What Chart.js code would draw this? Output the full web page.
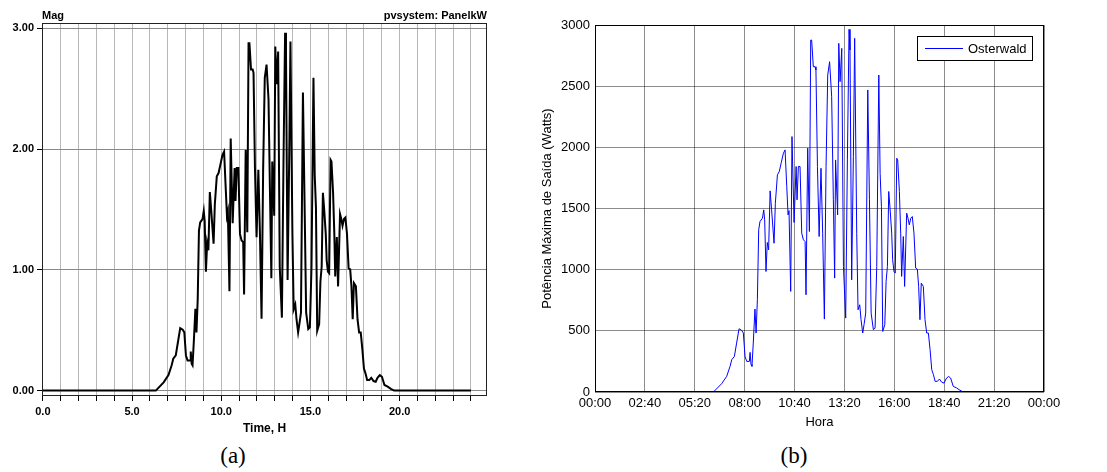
<!DOCTYPE html>
<html>
<head>
<meta charset="utf-8">
<script src="https://cdn.jsdelivr.net/npm/chart.js@4.4.1/dist/chart.umd.min.js"></script>
<style>
  body { margin: 0; background: #fff; }
  #wrap { position: relative; width: 1107px; height: 472px; }
  canvas { position: absolute; top: 0; }
  .cap { position: absolute; top: 443px; width: 60px; text-align: center;
         font-family: "Liberation Serif", "Times New Roman", serif; font-size: 23px; color: #000; }
</style>
</head>
<body>
<div id="wrap">
  <canvas id="grafA" width="500" height="440" style="left:0"></canvas>
  <canvas id="grafB" width="567" height="440" style="left:540px"></canvas>
  <div class="cap" style="left:203px">(a)</div>
  <div class="cap" style="left:764px">(b)</div>
</div>
<script>
// hora do dia (h) e potencia (W)
const horas = [0, 6.33, 6.77, 7.04, 7.22, 7.31, 7.45, 7.57, 7.70, 7.84, 7.93, 8.02, 8.11, 8.25, 8.29, 8.34,
  8.39, 8.46, 8.55, 8.61, 8.68, 8.75, 8.82, 8.95, 9.02, 9.07, 9.14, 9.21, 9.28, 9.36, 9.44, 9.57,
  9.64, 9.75, 9.85, 9.96, 10.07, 10.16, 10.25, 10.32, 10.37, 10.46, 10.53, 10.64, 10.75, 10.80, 10.87,
  10.96, 11.05, 11.14, 11.23, 11.28, 11.37, 11.46, 11.53, 11.58, 11.67, 11.76, 11.81, 11.89, 11.98,
  12.08, 12.17, 12.26, 12.35, 12.44, 12.54, 12.65, 12.74, 12.81, 12.86, 12.97, 13.03, 13.10, 13.19,
  13.28, 13.40, 13.49, 13.58, 13.63, 13.72, 13.81, 13.88, 13.99, 14.06, 14.15, 14.22, 14.31, 14.38,
  14.47, 14.58, 14.67, 14.76, 14.88, 14.97, 15.06, 15.17, 15.24, 15.31, 15.38, 15.49, 15.56, 15.63,
  15.70, 15.77, 15.86, 15.91, 15.98, 16.05, 16.13, 16.18, 16.27, 16.34, 16.39, 16.48, 16.55, 16.66,
  16.73, 16.80, 16.88, 16.96, 17.05, 17.14, 17.23, 17.30, 17.37, 17.44, 17.55, 17.64, 17.73, 17.82,
  17.91, 18.00, 18.09, 18.18, 18.30, 18.41, 18.54, 18.66, 18.76, 18.89, 19.01, 19.15, 19.33, 19.51,
  19.69, 24];
const potencia = [0, 0, 68, 128, 210, 264, 291, 400, 517, 504, 482, 291, 250, 250, 324, 223,
  210, 400, 678, 482, 754, 1326, 1394, 1421, 1489, 1407, 985, 1222, 1162, 1644, 1489, 1216,
  1543, 1775, 1802, 1878, 1952, 1979, 1679, 1448, 1483, 822, 2088, 1386, 1843, 1571, 1843,
  1843, 1298, 1244, 1230, 795, 1993, 1312, 2877, 2877, 2659, 2659, 2632, 1843, 1271,
  1829, 1298, 596, 1843, 2591, 2700, 2414, 1571, 931, 1897, 1448, 2850, 2537, 2809,
  1026, 604, 1897, 2964, 2795, 917, 1924, 2891, 1298, 672, 713, 591, 482, 550,
  645, 2469, 1571, 645, 509, 523, 1026, 2591, 1788, 1516, 495, 550, 904, 1026,
  1639, 1503, 1298, 1081, 985, 972, 1911, 1897, 1639, 1298, 945, 1271, 863, 1462,
  1421, 1366, 1421, 1434, 1298, 1013, 1004, 863, 591, 890, 863, 591, 482, 482,
  346, 182, 142, 87, 87, 106, 79, 73, 106, 128, 114, 46, 33, 14,
  0, 0];

// ticks
const ticksHorasA = [0, 1, 2, 3, 4, 5, 6, 7, 8, 9, 10, 11, 12, 13, 14, 15, 16, 17, 18, 19, 20, 21, 22, 23, 24];
const ticksMagA = [0, 1000, 2000, 3000];
const rotulosMagA = ['0.00', '1.00', '2.00', '3.00'];
const ticksHorasB = [0, 8 / 3, 16 / 3, 8, 32 / 3, 40 / 3, 16, 56 / 3, 64 / 3, 24];
const rotulosHoraB = ['00:00', '02:40', '05:20', '08:00', '10:40', '13:20', '16:00', '18:40', '21:20', '00:00'];

const pontos = horas.map((h, i) => ({ x: h, y: potencia[i] }));
const fonte = '"Liberation Sans", Arial, sans-serif';

// moldura, cabecalho e legenda desenhados por cima
const molduraPlugin = {
  id: 'moldura',
  afterDraw(chart, args, opts) {
    const { ctx, chartArea: a } = chart;
    ctx.save();
    ctx.strokeStyle = opts.color || '#000';
    ctx.lineWidth = 1;
    ctx.strokeRect(a.left + 0.5, a.top + 0.5, a.right - a.left - 1, a.bottom - a.top - 1);
    if (opts.cabecalho) {
      ctx.fillStyle = '#000';
      ctx.font = 'bold 11px ' + fonte;
      ctx.textBaseline = 'alphabetic';
      ctx.textAlign = 'left';
      ctx.fillText(opts.cabecalho[0], a.left, a.top - 4);
      ctx.textAlign = 'right';
      ctx.fillText(opts.cabecalho[1], a.right, a.top - 4);
    }
    if (opts.legenda) {
      const bx = a.right - 127, by = a.top + 11, bw = 115, bh = 24;
      ctx.fillStyle = '#fff';
      ctx.fillRect(bx, by, bw, bh);
      ctx.strokeStyle = '#000';
      ctx.strokeRect(bx + 0.5, by + 0.5, bw, bh);
      ctx.strokeStyle = '#0000ff';
      ctx.beginPath();
      ctx.moveTo(bx + 8, by + 12.5);
      ctx.lineTo(bx + 46, by + 12.5);
      ctx.stroke();
      ctx.fillStyle = '#000';
      ctx.font = '13px ' + fonte;
      ctx.textAlign = 'left';
      ctx.textBaseline = 'middle';
      ctx.fillText(opts.legenda, bx + 51, by + 13);
    }
    ctx.restore();
  }
};

document.addEventListener('DOMContentLoaded', function () {
  // grafico (a)
  new Chart(document.getElementById('grafA').getContext('2d'), {
    type: 'line',
    data: {
      datasets: [{
        data: pontos,
        borderColor: '#000',
        borderWidth: 2,
        pointRadius: 0,
        tension: 0
      }]
    },
    options: {
      responsive: false,
      animation: false,
      devicePixelRatio: 1,
      layout: { padding: { top: 23, right: 13, left: 0, bottom: 0 } },
      plugins: {
        legend: { display: false },
        tooltip: { enabled: false },
        moldura: { color: '#222', cabecalho: ['Mag', 'pvsystem: PanelkW'] }
      },
      scales: {
        x: {
          type: 'linear', min: -0.05, max: 24.9,
          afterBuildTicks: s => { s.ticks = ticksHorasA.map(v => ({ value: v })); },
          afterFit: s => { s.height = 44; },
          grid: { color: '#b8b8b8', tickColor: '#000', tickLength: 5 },
          border: { display: false },
          ticks: {
            autoSkip: false, maxRotation: 0, padding: 4, color: '#000',
            font: { family: fonte, size: 11, weight: 'bold' },
            callback: v => (v % 5 === 0 && v < 24 ? v.toFixed(1) : '')
          },
          title: {
            display: true, text: 'Time, H', color: '#000',
            font: { family: fonte, size: 12, weight: 'bold' },
            padding: { top: 0, bottom: 4 }
          }
        },
        y: {
          min: -45, max: 3045,
          afterBuildTicks: s => { s.ticks = ticksMagA.map(v => ({ value: v })); },
          afterFit: s => { s.width = 42; },
          grid: { color: '#8a8a8a', tickColor: '#000', tickLength: 5 },
          border: { display: true, color: '#000', width: 1 },
          ticks: {
            padding: 3, color: '#000',
            font: { family: fonte, size: 11, weight: 'bold' },
            callback: (v, i) => rotulosMagA[i]
          }
        }
      }
    },
    plugins: [molduraPlugin]
  });

  // grafico (b)
  new Chart(document.getElementById('grafB').getContext('2d'), {
    type: 'line',
    data: {
      datasets: [{
        label: 'Osterwald',
        data: pontos,
        borderColor: '#0000ff',
        borderWidth: 1,
        pointRadius: 0,
        tension: 0
      }]
    },
    options: {
      responsive: false,
      animation: false,
      devicePixelRatio: 1,
      layout: { padding: { top: 25, right: 63, left: 0, bottom: 0 } },
      plugins: {
        legend: { display: false },
        tooltip: { enabled: false },
        moldura: { color: '#000', legenda: 'Osterwald' }
      },
      scales: {
        x: {
          type: 'linear', min: 0, max: 24,
          afterBuildTicks: s => { s.ticks = ticksHorasB.map(v => ({ value: v })); },
          afterFit: s => { s.height = 48; },
          grid: { color: 'rgba(0,0,0,0.45)', drawTicks: false },
          border: { display: false },
          ticks: {
            autoSkip: false, maxRotation: 0, padding: 4, color: '#000',
            font: { family: fonte, size: 13 },
            callback: (v, i) => rotulosHoraB[i]
          },
          title: {
            display: true, text: 'Hora', color: '#000',
            font: { family: fonte, size: 13 },
            padding: { top: 0, bottom: 10 }
          }
        },
        y: {
          min: 0, max: 3000,
          afterFit: s => { s.width = 55; },
          grid: { color: 'rgba(0,0,0,0.45)', drawTicks: false },
          border: { display: false },
          ticks: {
            stepSize: 500, padding: 5, color: '#000',
            font: { family: fonte, size: 13 },
            callback: v => String(v)
          },
          title: {
            display: true, text: 'Potência Máxima de Saída (Watts)', color: '#000',
            font: { family: fonte, size: 13 },
            padding: { top: 0, bottom: 0 }
          }
        }
      }
    },
    plugins: [molduraPlugin]
  });
});
</script>
</body>
</html>
